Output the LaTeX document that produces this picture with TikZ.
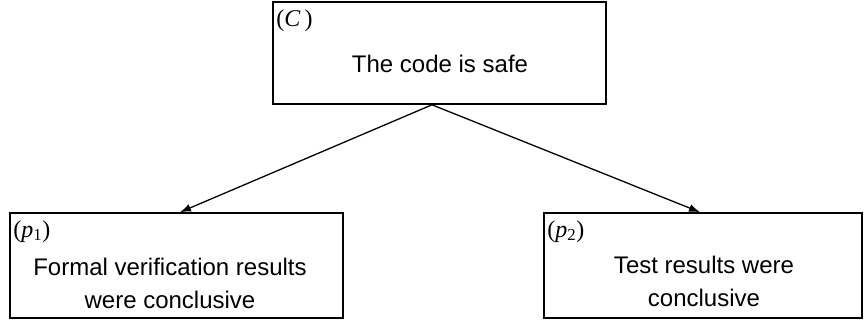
\documentclass[tikz,border=0pt]{standalone}
\usepackage{fontspec}
\setmainfont{Liberation Sans}
\newfontfamily\tagfont{Liberation Serif}
\usetikzlibrary{arrows.meta}
\tikzset{
    claim/.style={draw, line width=1.6pt, inner sep=0pt},
    tag/.style={anchor=north west, inner xsep=4pt, inner ysep=8pt, font=\tagfont\fontsize{24}{28}\selectfont},
    says/.style={align=center, inner sep=0pt, font=\fontsize{24}{33}\selectfont},
    link/.style={-{Latex[length=11pt,width=8pt]}, line width=1.3pt},
}
\begin{document}
\begin{tikzpicture}[x=1pt,y=-1pt]
    \useasboundingbox (0,0) rectangle (867,322);
    % the three boxes
    \node[claim, minimum width=333pt, minimum height=102pt] (C) at (439.5,53) {};
    \node[claim, minimum width=333pt, minimum height=105pt] (p1) at (176.5,265.5) {};
    \node[claim, minimum width=318pt, minimum height=105pt] (p2) at (703,265.5) {};
    \node[tag] (tagC) at (C.north west) {(\textit{C}\,)};
    \node[tag] (tagp1) at (p1.north west) {(\textit{p}\textsubscript{1})};
    \node[tag] (tagp2) at (p2.north west) {(\textit{p}\textsubscript{2})};
    \node[says] (textC) at (440,64) {The code is safe};
    \node[says] (textp1) at (170,283.5) {Formal verification results\\were conclusive};
    \node[says] (textp2) at (704,281.5) {Test results were\\conclusive};
    % support links
    \coordinate (fork) at ([xshift=-7.5pt]C.south);
    \draw[link] (fork) -- ([xshift=3.5pt]p1.north);
    \draw[link] (fork) -- ([xshift=-3pt]p2.north);
\end{tikzpicture}
\end{document}
